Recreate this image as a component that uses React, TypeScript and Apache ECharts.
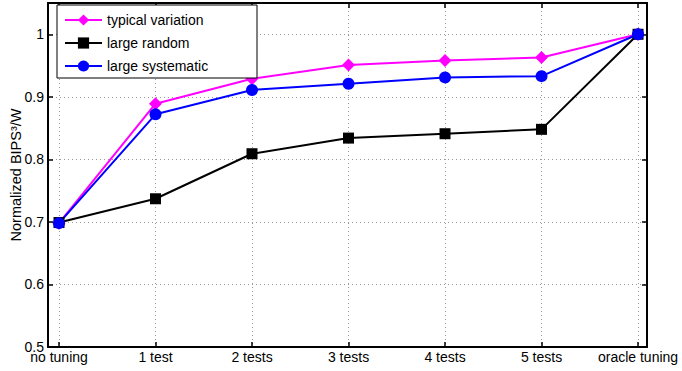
import React, { useEffect, useRef } from "react";
import * as echarts from "echarts";

const categories = ["no tuning", "1 test", "2 tests", "3 tests", "4 tests", "5 tests", "oracle tuning"];
const typicalVariation = [0.698, 0.889, 0.929, 0.951, 0.958, 0.963, 1.0];
const largeRandom = [0.699, 0.737, 0.809, 0.834, 0.841, 0.848, 1.0];
const largeSystematic = [0.698, 0.872, 0.911, 0.921, 0.931, 0.933, 1.0];
const yTicks = [0.5, 0.6, 0.7, 0.8, 0.9, 1];

const FONT = "'Liberation Sans', Arial, Helvetica, sans-serif";

export default function App() {
  const ref = useRef<HTMLDivElement>(null);
  useEffect(() => {
    if (!ref.current) return;
    const chart = echarts.init(ref.current, null, { renderer: "svg" });
    const toPts = (arr: number[]) => arr.map((v, i) => [i, v]);
    const frameLine = { show: true, onZero: false, lineStyle: { color: "#000", width: 2 } };
    const gridLine = { show: true, lineStyle: { color: "#999", type: [1, 3], width: 1 } };
    const tick = { show: true, inside: true, length: 5, lineStyle: { color: "#000", width: 1.5 } };
    const xLabel = (v: number) => {
      const i = Math.round(v);
      return Math.abs(v - i) < 1e-6 && categories[i] !== undefined ? categories[i] : "";
    };
    const yLabel = (v: number) => {
      const m = yTicks.find((t) => Math.abs(t - v) < 1e-6);
      return m === undefined ? "" : String(m);
    };
    const xCommon = {
      type: "value",
      min: -0.114,
      max: 6.093,
      minInterval: 1,
      maxInterval: 1,
      splitNumber: 6,
      axisLine: frameLine,
      axisTick: tick,
    };
    const yCommon = {
      type: "value",
      min: 0.5,
      max: 1.05,
      interval: 0.1,
      axisLine: frameLine,
      axisTick: tick,
    };
    chart.setOption({
      animation: false,
      textStyle: { fontFamily: FONT },
      grid: { left: 48, right: 35, top: 3, bottom: 24, containLabel: false, outerBoundsMode: "none" },
      graphic: [
        {
          type: "rect",
          z: 50,
          shape: { x: 57, y: 5, width: 200, height: 73 },
          style: { fill: "#fff", stroke: "#000", lineWidth: 1 },
        },
      ],
      legend: {
        z: 60,
        orient: "vertical",
        left: 64,
        top: 13,
        padding: 0,
        itemWidth: 37,
        itemHeight: 14,
        itemGap: 9,
        textStyle: { fontFamily: FONT, fontSize: 14, color: "#000" },
        data: ["typical variation", "large random", "large systematic"],
      },
      xAxis: [
        {
          ...xCommon,
          position: "bottom",
          axisLabel: { formatter: xLabel, fontSize: 14, color: "#000", margin: 3, fontFamily: FONT, showMinLabel: true, showMaxLabel: true, hideOverlap: false },
          splitLine: gridLine,
        },
        {
          ...xCommon,
          position: "top",
          axisLabel: { show: false },
          splitLine: { show: false },
        },
      ],
      yAxis: [
        {
          ...yCommon,
          position: "left",
          name: "Normalized BIPS\u00B3/W",
          nameLocation: "middle",
          nameGap: 25,
          nameMoveOverlap: false,
          nameTextStyle: { fontSize: 14.5, color: "#000", fontFamily: FONT },
          axisLabel: { formatter: yLabel, fontSize: 14, color: "#000", margin: 4, fontFamily: FONT },
          splitLine: gridLine,
        },
        {
          ...yCommon,
          position: "right",
          axisLabel: { show: false },
          splitLine: { show: false },
        },
      ],
      series: [
        {
          name: "typical variation",
          type: "line",
          data: toPts(typicalVariation),
          symbol: "diamond",
          symbolSize: 13,
          lineStyle: { color: "#ff00ff", width: 2 },
          itemStyle: { color: "#ff00ff" },
        },
        {
          name: "large random",
          type: "line",
          data: toPts(largeRandom),
          symbol: "rect",
          symbolSize: 11,
          lineStyle: { color: "#000", width: 2 },
          itemStyle: { color: "#000" },
        },
        {
          name: "large systematic",
          type: "line",
          data: toPts(largeSystematic),
          symbol: "circle",
          symbolSize: 12,
          lineStyle: { color: "#0000ff", width: 2 },
          itemStyle: { color: "#0000ff" },
        },
      ],
    });
    return () => chart.dispose();
  }, []);
  return <div ref={ref} style={{ width: 682, height: 371, position: "absolute", left: 0, top: 0, background: "#fff" }} />;
}
